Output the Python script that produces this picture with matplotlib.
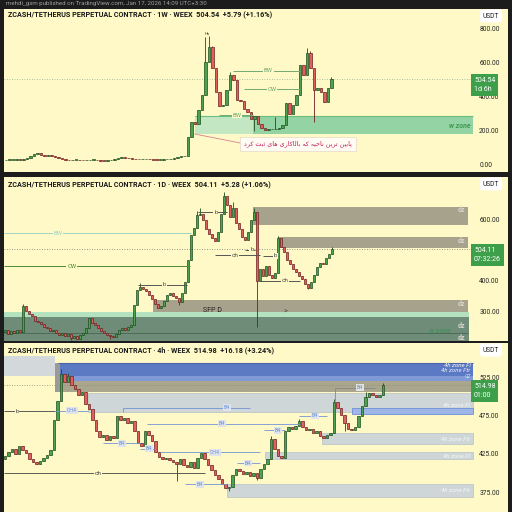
import matplotlib
matplotlib.use('Agg')
import matplotlib.pyplot as plt
from matplotlib.patches import Rectangle
from matplotlib.ticker import FormatStrFormatter
import matplotlib.transforms as mtransforms

# ---------------- weekly (1W) ----------------
w_flat = [30, 31, 32, 33, 32, 35, 40, 50, 62, 70, 58, 55, 56, 50, 46, 40, 35, 30, 28, 30,
          31, 28, 27, 29, 30, 31, 29, 26, 25, 27, 32, 38, 44, 46, 43, 40, 36, 34, 33, 35,
          36, 33, 31, 30, 31, 33, 35, 38, 42, 45, 50, 55]
w_run = [165, 253, 240, 323, 412, 606, 694, 570, 429, 345, 353, 441, 529, 500, 382, 375,
         330, 310, 270, 290, 240, 215, 205, 210, 210, 212, 215, 235, 364, 300, 355, 412,
         588, 529, 659, 570, 441, 453, 429, 370, 453, 504.54]
w_closes = w_flat + w_run
w_open0 = 29
w_highs = {57: 753, 58: 760, 59: 700, 64: 545, 77: 282, 86: 690, 87: 670, 93: 520}
w_lows = {52: 50, 71: 200, 88: 253}
w_last = 504.54
w_ticks = [0, 200, 400, 600, 800]
w_levels = [(65, 84, 553, 'BW', 75), (68, 84, 447, 'CW', 76), (61, 70.5, 294, 'BW', 66)]
w_zone_light = (54, 70.6, 182, 288)
w_zone_dark = (70.6, 133.4, 182, 288)

# ---------------- daily (1D) ----------------
d_closes = [240, 225, 235, 228, 240, 232, 318, 300, 290, 285,
            270, 265, 258, 250, 245, 235, 240, 230, 222, 228,
            218, 225, 212, 220, 210, 222, 230, 245, 280, 262,
            255, 245, 235, 230, 222, 218, 215, 225, 240, 245,
            238, 250, 255, 320, 370, 380, 372, 368, 355, 340,
            325, 310, 318, 335, 355, 362, 350, 345, 330, 360,
            395, 470, 550, 575, 615, 620, 600, 570, 555, 540,
            530, 560, 620, 680, 650, 610, 640, 590, 570, 545,
            535, 560, 600, 625, 400, 440, 415, 450, 420, 410,
            425, 540, 510, 495, 470, 455, 440, 430, 415, 405,
            390, 378, 395, 420, 445, 460, 455, 475, 490, 504.11]
d_open0 = 232
d_highs = {6: 325, 45: 392, 64: 630, 65: 640, 73: 692, 76: 660, 83: 640, 91: 548, 109: 512}
d_lows = {22: 205, 35: 210, 58: 322, 84: 250, 101: 372}
d_last = 504.11
d_ticks = [300, 400, 600]
d_zones = [(82.7, 154.3, 584, 643), (91, 154.3, 508, 544), (49.3, 154.3, 298, 338)]
d_zone_labels = [632, 532, 326, 252, 213]
d_levels = [(-0.5, 62, 557, 'BW', 17.7, '#9fd3c3'), (-0.5, 61.7, 449, 'CW', 22.3, '#4f8a35'),
            (44.3, 60.7, 387, 'b', 53, '#555555'), (64.3, 74, 626, 'b', 70.3, '#555555'),
            (70, 85, 485, 'ch', 76.7, '#555555'), (80, 83.3, 502, 'b', 82.3, '#555555'),
            (86, 91, 482, 'b', 90, '#555555'), (85, 98.3, 400, 'ch', 93.3, '#555555')]

# ---------------- 4h ----------------
h_closes = [422, 428, 432, 425, 436, 430, 426, 418, 414, 412,
            416, 420, 424, 430, 470, 495, 530, 520, 527, 515,
            510, 502, 506, 490, 484, 470, 455, 447, 450, 443,
            448, 446, 475, 470, 472, 466, 468, 455, 440, 436,
            455, 450, 442, 428, 421, 418, 420, 417, 415, 412,
            418, 410, 408, 415, 406, 420, 426, 418, 410, 404,
            398, 392, 386, 380, 382, 398, 405, 402, 399, 401,
            396, 400, 394, 405, 412, 418, 445, 432, 422, 420,
            455, 460, 458, 462, 468, 460, 456, 458, 452, 455,
            448, 446, 450, 452, 493, 485, 476, 466, 458, 457,
            460, 475, 488, 500, 505, 502, 500, 503, 514.98]
h_open0 = 418
h_highs = {16: 536, 18: 531, 76: 448, 84: 471, 94: 497, 103: 506, 108: 518}
h_lows = {49: 390, 64: 377, 72: 391, 97: 455}
h_last = 514.98
h_ticks = [375, 425, 475, 525]
h_gray_zones = [(23.7, 133.7, 480, 505, 'Fl', 489), (90.6, 133.7, 438, 453, 'Ftr', 444),
                (74.3, 133.7, 418, 427, 'Fl', 422), (63.4, 133.7, 368, 385, 'Ftr', 377)]
h_levels = [(-0.3, 14.3, 481, 'b', 3.4, '#444444'), (14.3, 23.7, 482, 'CH4', 19.1, '#7394d6'),
            (33.7, 70, 486, 'B4', 63.4, '#7394d6'), (40.6, 84.3, 465, 'B4', 62, '#7394d6'),
            (28, 38.6, 439, 'B4', 33.4, '#7394d6'), (38.6, 42.9, 432, 'B4', 41.1, '#7394d6'),
            (44.3, 72.9, 427, 'CH4', 60, '#7394d6'), (66.3, 72.9, 413, 'B4', 69.4, '#7394d6'),
            (51.4, 63.4, 385, 'B4', 55.7, '#7394d6'), (-0.3, 57.1, 400, 'ch', 26.6, '#444444'),
            (84, 92, 475, 'B4', 88.6, '#7394d6'), (74, 80, 456, 'B4', 78, '#7394d6'),
            (94.3, 105.7, 512, 'B4', 101.4, '#888888')]

note_fa = 'پایین ترین ناحیه که بالاکاری های ثبت کرد'

# ---------------- style ----------------
W, H = 512, 512
DARK = '#1c1c1c'
BG = '#fef9c6'
UP, UP_E = '#4da24f', '#1d4d1f'
DN, DN_E = '#e06060', '#6e1f1f'
plt.rcParams['font.family'] = ['Roboto', 'DejaVu Sans']

FORMS = {
    'ا': ('\uFE8D', '\uFE8E', None, None), 'د': ('\uFEA9', '\uFEAA', None, None),
    'ر': ('\uFEAD', '\uFEAE', None, None),
    'ب': ('\uFE8F', '\uFE90', '\uFE91', '\uFE92'), 'پ': ('\uFB56', '\uFB57', '\uFB58', '\uFB59'),
    'ت': ('\uFE95', '\uFE96', '\uFE97', '\uFE98'), 'ث': ('\uFE99', '\uFE9A', '\uFE9B', '\uFE9C'),
    'ح': ('\uFEA1', '\uFEA2', '\uFEA3', '\uFEA4'), 'ل': ('\uFEDD', '\uFEDE', '\uFEDF', '\uFEE0'),
    'ن': ('\uFEE5', '\uFEE6', '\uFEE7', '\uFEE8'), 'ه': ('\uFEE9', '\uFEEA', '\uFEEB', '\uFEEC'),
    'ک': ('\uFB8E', '\uFB8F', '\uFB90', '\uFB91'), 'ی': ('\uFBFC', '\uFBFD', '\uFBFE', '\uFBFF'),
}


def shape_fa(s):
    out = []
    for j, ch in enumerate(s):
        if ch not in FORMS:
            out.append(ch)
            continue
        prev = s[j - 1] if j > 0 else ' '
        nxt = s[j + 1] if j + 1 < len(s) else ' '
        jp = prev in FORMS and FORMS[prev][2] is not None
        jn = FORMS[ch][2] is not None and nxt in FORMS
        f = FORMS[ch]
        out.append(f[3] if jp and jn else f[1] if jp else f[2] if jn else f[0])
    return ''.join(reversed(out))


fig = plt.figure(figsize=(5.12, 5.12), dpi=100, facecolor=DARK)


def fx(x):
    return x / W


def fy(y):
    return 1 - y / H


def fig_rect(x0, y0, x1, y1, color):
    fig.add_artist(Rectangle((fx(x0), fy(y1)), (x1 - x0) / W, (y1 - y0) / H,
                             transform=fig.transFigure, fc=color, ec='none', zorder=-5))


def make_panel(y0, y1, x0, step, ymin, ymax, ticks):
    fig_rect(4, y0, 508, y1, BG)
    ax = fig.add_axes([fx(4), fy(y1), (475 - 4) / W, (y1 - y0) / H])
    ax.set_facecolor('none')
    ax.set_xlim((4 - x0) / step, (475 - x0) / step)
    ax.set_ylim(ymin, ymax)
    for s in ax.spines.values():
        s.set_visible(False)
    ax.xaxis.set_visible(False)
    ax.yaxis.tick_right()
    ax.set_yticks(ticks)
    ax.yaxis.set_major_formatter(FormatStrFormatter('%.2f'))
    ax.tick_params(axis='y', length=0, pad=3, labelsize=4.8, labelcolor='#222222')
    return ax


def candles(ax, closes, open0, highs, lows, width, minh):
    opens = [open0] + closes[:-1]
    idx = list(range(len(closes)))
    bots, hts, fcs, ecs = [], [], [], []
    for i, o, c in zip(idx, opens, closes):
        up = c >= o
        e = UP_E if up else DN_E
        ax.vlines(i, lows.get(i, min(o, c)), highs.get(i, max(o, c)), color=e, lw=0.6, zorder=3)
        bots.append(min(o, c))
        hts.append(max(abs(c - o), minh))
        fcs.append(UP if up else DN)
        ecs.append(e)
    ax.bar(idx, hts, bottom=bots, width=width, color=fcs, edgecolor=ecs, linewidth=0.5, zorder=4)


def price_box(ax, price, txt):
    tr = mtransforms.blended_transform_factory(ax.transAxes, ax.transData)
    tr = mtransforms.offset_copy(tr, fig=fig, x=1, y=2.5, units='dots')
    ax.text(0.996, price, txt, transform=tr, ha='left', va='top', fontsize=5,
            color='white', linespacing=1.45, clip_on=False, zorder=10,
            bbox=dict(boxstyle='square,pad=0.38', fc='#3e9f4a', ec='none'))


def level(ax, x0, x1, y, lab, lx, color, fs=4.2, lw=0.7, bg=BG):
    ax.hlines(y, x0, x1, color=color, lw=lw, zorder=5)
    ax.text(lx, y, lab, ha='center', va='center', fontsize=fs, color=color, zorder=6,
            bbox=dict(boxstyle='square,pad=0.15', fc=bg, ec='none'))


def header(y, txt, usdt_y):
    fig.text(fx(8), fy(y), txt, fontsize=5.2, fontweight='bold', color='#1a1a1a', va='center')
    fig.text(fx(491), fy(usdt_y), 'USDT', fontsize=4.8, color='#222222', ha='center', va='center',
             bbox=dict(boxstyle='round,pad=0.45,rounding_size=0.4', fc='white', ec='none'))


# top strip
fig.text(fx(6), fy(3.6), 'mehdi_gsm published on TradingView.com, Jan 17, 2026 14:09 UTC+3:30',
         fontsize=4.4, color='#a0a0a0', va='center')

# ======== panel 1 : weekly ========
ax1 = make_panel(9, 172, 6, 3.5, -41.2, 917.6, w_ticks)
a, b, lo, hi = w_zone_light
ax1.add_patch(Rectangle((a, lo), b - a, hi - lo, fc='#c3e6c3', ec='none', zorder=1))
a, b, lo, hi = w_zone_dark
ax1.add_patch(Rectangle((a, lo), b - a, hi - lo, fc='#93d3a4', ec='none', zorder=1))
ax1.hlines(hi, w_zone_light[0], b, color='#6cbf7f', lw=0.8, zorder=2)
ax1.text(132.6, 235, 'w zone', ha='right', va='center', fontsize=5, fontstyle='italic',
         fontweight='bold', color='#3f9a4f', zorder=6)
ax1.axhline(w_last, ls=(0, (1, 2)), color='#8fb08f', lw=0.6, zorder=2)
for x0, x1, y, lab, lx in w_levels:
    level(ax1, x0, x1, y, lab, lx, '#74a874')
candles(ax1, w_closes, w_open0, w_highs, w_lows, 0.65, 3)
ax1.text(57.5, 765, 'Hv', fontsize=3.2, ha='center', color='#333333', zorder=6)
ax1.plot([54, 67], [182, 129], color='#d98090', lw=0.6, zorder=6)
ax1.text(83.5, 123, shape_fa(note_fa), family=['DejaVu Sans'], fontsize=4.6, color='#c2185b',
         ha='center', va='center', zorder=7,
         bbox=dict(boxstyle='square,pad=0.6', fc='#fffdf3', ec='#e6d8c8', lw=0.5))
price_box(ax1, w_last, '504.54\n1d 6h')
header(15.5, 'ZCASH/TETHERUS PERPETUAL CONTRACT · 1W · WEEX  504.54  +5.79 (+1.16%)', 16)

# ======== panel 2 : daily ========
ax2 = make_panel(177, 341, 5, 3, 203, 741, d_ticks)
ax2.add_patch(Rectangle((-0.5, 203), 155, 79, fc='#6f8c79', ec='none', zorder=1))
ax2.add_patch(Rectangle((-0.5, 282), 155, 16, fc='#b4e2bf', ec='none', zorder=1))
ax2.hlines(230, -0.5, 154.3, color='#4b6a58', lw=0.7, zorder=2)
for a, b, lo, hi in d_zones:
    ax2.add_patch(Rectangle((a, lo), b - a, hi - lo, fc='#a7a28b', ec='none', zorder=1))
for y in d_zone_labels:
    ax2.text(153.5, y, 'dz', ha='right', va='center', fontsize=5, fontweight='bold',
             color='#d8d6cc', zorder=6)
ax2.text(148.5, 238, 'w zone', ha='right', va='center', fontsize=5, fontstyle='italic',
         fontweight='bold', color='#3f8f55', alpha=0.8, zorder=5)
ax2.axhline(d_last, ls=(0, (1, 2)), color='#777777', lw=0.6, zorder=2)
for x0, x1, y, lab, lx, col in d_levels:
    level(ax2, x0, x1, y, lab, lx, col, fs=4.6 if lab == 'ch' else 4.2)
candles(ax2, d_closes, d_open0, d_highs, d_lows, 0.7, 2)
ax2.text(69.3, 302, 'SFP D', ha='center', va='center', fontsize=5, color='#222222', zorder=6)
ax2.text(93.3, 302, '>', ha='center', va='center', fontsize=5, color='#444444', zorder=6)
price_box(ax2, d_last, '504.11\n07:32:26')
header(185, 'ZCASH/TETHERUS PERPETUAL CONTRACT · 1D · WEEX  504.11  +5.28 (+1.06%)', 184)

# ======== panel 3 : 4h ========
ax3 = make_panel(343, 512, 5, 3.5, 348.8, 570.7, h_ticks)
ax3.add_patch(Rectangle((-0.3, 528), 14.6, 25, fc='#d3d9da', ec='none', zorder=1))
ax3.add_patch(Rectangle((15.1, 521), 118.6, 24, fc='#7f98d6', ec='none', zorder=1))
ax3.add_patch(Rectangle((15.1, 528), 118.6, 17, fc='#5c79c4', ec='none', zorder=1))
ax3.hlines(545, 15.1, 133.7, color='#4a64ad', lw=0.8, zorder=2)
ax3.add_patch(Rectangle((14.3, 507), 119.4, 14, fc='#a9a68d', ec='none', zorder=1))
ax3.add_patch(Rectangle((14.3, 507), 1.4, 38, fc='#9a9a98', ec='none', zorder=1))
ax3.text(133, 541, '4h zone Fl', ha='right', va='center', fontsize=4.3, fontstyle='italic',
         color='#f2f2f2', zorder=6)
ax3.text(133, 534, '4h zone Ftr', ha='right', va='center', fontsize=4.3, fontstyle='italic',
         color='#e8ecf5', zorder=6)
ax3.text(133, 527, 'OZ', ha='right', va='center', fontsize=3.6, fontstyle='italic',
         color='#dfe3ea', zorder=6)
for a, b, lo, hi, kind, ly in h_gray_zones:
    ax3.add_patch(Rectangle((a, lo), b - a, hi - lo, fc='#cfd6d8', ec='#b7c0c4', lw=0.5, zorder=1))
    ax3.text(132.8, ly, '4h zone ' + kind, ha='right', va='center', fontsize=4.3,
             fontstyle='italic', color='#f7f7f7', zorder=6)
ax3.add_patch(Rectangle((99.1, 477), 34.6, 8, fc='#9fb6e8', ec='#6f8fd8', lw=0.6, zorder=2))
ax3.axhline(h_last, ls=(0, (1, 2)), color='#8a8a70', lw=0.6, zorder=2)
for x0, x1, y, lab, lx, col in h_levels:
    level(ax3, x0, x1, y, lab, lx, col, fs=4.6 if lab == 'ch' else 3.8, lw=0.6,
          bg=BG if col == '#444444' else '#dfe4ea')
ax3.vlines(94.3, 495, 512, color='#888888', lw=0.6, zorder=5)
ax3.vlines(33.7, 480, 486, color='#7394d6', lw=0.6, zorder=5)
candles(ax3, h_closes, h_open0, h_highs, h_lows, 0.6, 1)
price_box(ax3, h_last, '514.98\n01:00')
header(350, 'ZCASH/TETHERUS PERPETUAL CONTRACT · 4h · WEEX  514.98  +16.18 (+3.24%)', 350)

fig.savefig('out.png', dpi=100, facecolor=DARK)
